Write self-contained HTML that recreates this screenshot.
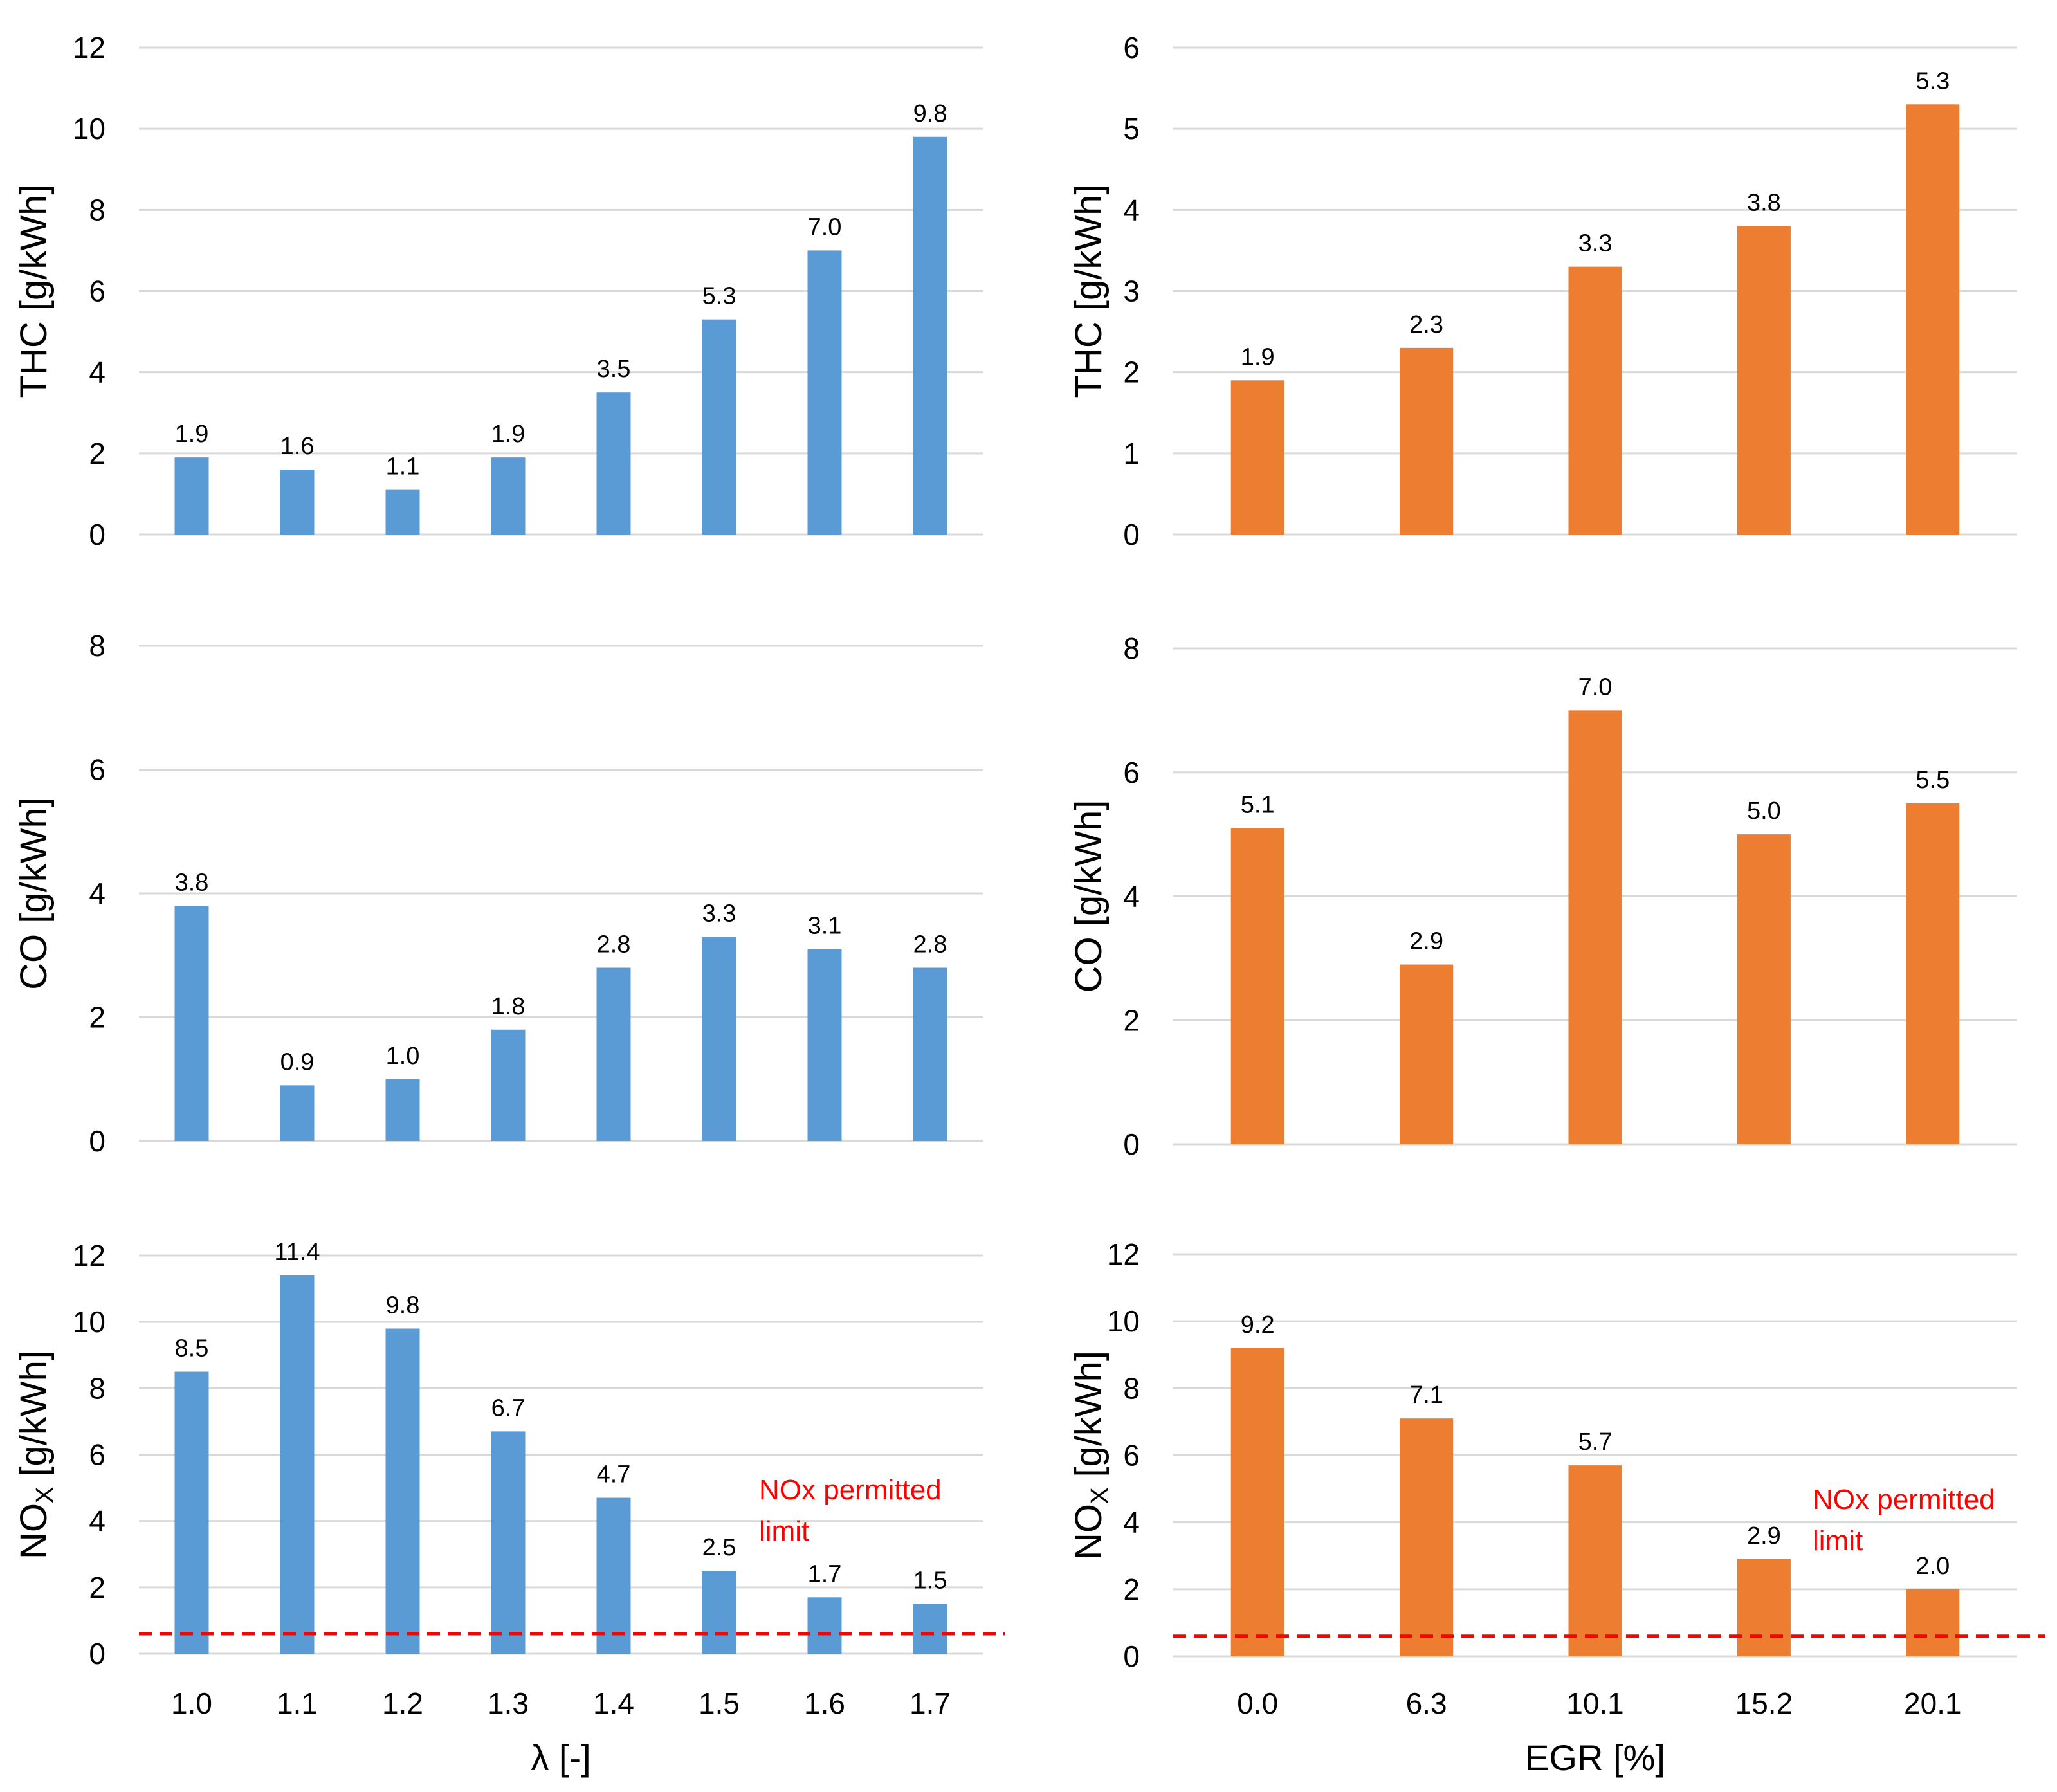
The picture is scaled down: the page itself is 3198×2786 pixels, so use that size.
<!DOCTYPE html>
<html><head><meta charset="utf-8"><style>
html,body{margin:0;padding:0;background:#fff;}
svg{display:block;font-family:"Liberation Sans",sans-serif;}
</style></head><body>
<svg id="fig" width="3198" height="2786" viewBox="0 0 3198 2786" xmlns="http://www.w3.org/2000/svg"></svg>
<script>
const lambdaCats = ["1.0","1.1","1.2","1.3","1.4","1.5","1.6","1.7"];
const egrCats = ["0.0","6.3","10.1","15.2","20.1"];
const thcLambda = [1.9,1.6,1.1,1.9,3.5,5.3,7.0,9.8];
const coLambda = [3.8,0.9,1.0,1.8,2.8,3.3,3.1,2.8];
const noxLambda = [8.5,11.4,9.8,6.7,4.7,2.5,1.7,1.5];
const thcEgr = [1.9,2.3,3.3,3.8,5.3];
const coEgr = [5.1,2.9,7.0,5.0,5.5];
const noxEgr = [9.2,7.1,5.7,2.9,2.0];
const noxLimit = 0.6;
const thcLambdaTicks = [0,2,4,6,8,10,12];
const thcEgrTicks = [0,1,2,3,4,5,6];
const coTicks = [0,2,4,6,8];
const noxTicks = [0,2,4,6,8,10,12];

const svg = document.getElementById('fig');
const NS = 'http://www.w3.org/2000/svg';
function mk(tag, attrs, parent){const e=document.createElementNS(NS,tag);for(const k in attrs)e.setAttribute(k,attrs[k]);(parent||svg).appendChild(e);return e;}

function panel(o){
  const g = mk('g',{});
  
  
  const ymax = o.ticks[o.ticks.length-1];
  const y = v => o.y0 + (o.yTop - o.y0) * v / ymax;
  const bw = (o.x1 - o.x0) / o.cats.length;
  const xc = i => o.x0 + bw * (i + 0.5);
  o.ticks.forEach(t=>{
    const l = mk('line',{x1:o.x0,x2:o.x1,y1:y(t),y2:y(t),stroke:'#d9d9d9','stroke-width':3},g);
    
    
    const tx = mk('text',{x:o.tickX,y:y(t)+16,'text-anchor':'end','font-size':46,fill:'#000'},g);
    tx.textContent = t;
    
    
  });
  o.vals.forEach((v,i)=>{
    const r = mk('rect',{x:xc(i)-o.barW/2,y:y(v),width:o.barW,height:o.y0-y(v),fill:o.color},g);
    
    
    const tx = mk('text',{x:xc(i),y:y(v)-24,'text-anchor':'middle','font-size':38,fill:'#000'},g);
    tx.textContent = v.toFixed(1);
    
    
    if(o.showX){
      const xl = mk('text',{x:xc(i),y:o.xLabY,'text-anchor':'middle','font-size':46,fill:'#000'},g);
      xl.textContent = o.cats[i];
      
      
    }
  });
  const at = mk('text',{transform:`translate(${o.titleX},${(o.y0+o.yTop)/2}) rotate(-90)`,'text-anchor':'middle','font-size':58,fill:'#000'},g);
  
  
  if(o.sub){
    at.textContent = o.title;
    const ts = mk('tspan',{'font-size':38,dy:10},at); ts.textContent='X';
    const ts2 = mk('tspan',{dy:-10},at); ts2.textContent=' [g/kWh]';
  } else at.textContent = o.title + ' [g/kWh]';
  if(o.limit){
    const dl = mk('line',{x1:o.x0,x2:o.limitX2,y1:y(noxLimit),y2:y(noxLimit),stroke:'#ff0000','stroke-width':5,'stroke-dasharray':'20 12'},g);
    
    
    const lt = mk('text',{x:o.limX,y:o.limY,'font-size':44,fill:'#ff0000'},g);
    
    
    const a = mk('tspan',{x:o.limX},lt); a.textContent='NOx permitted';
    const b = mk('tspan',{x:o.limX,dy:64},lt); b.textContent='limit';
  }
  if(o.xTitle){
    const xt = mk('text',{x:(o.x0+o.x1)/2,y:2752,'text-anchor':'middle','font-size':56,fill:'#000'},g);
    xt.textContent = o.xTitle;
    
    
  }
}
const L = {x0:216,x1:1528,tickX:164,titleX:72,color:'#5b9bd5',barW:53,cats:lambdaCats};
const R = {x0:1824,x1:3136,tickX:1772,titleX:1712,color:'#ed7d31',barW:83,cats:egrCats};
panel(Object.assign({},L,{name:'thc-lambda-chart',vals:thcLambda,ticks:thcLambdaTicks,y0:831,yTop:74,title:'THC'}));
panel(Object.assign({},L,{name:'co-lambda-chart',vals:coLambda,ticks:coTicks,y0:1774,yTop:1004,title:'CO'}));
panel(Object.assign({},L,{name:'nox-lambda-chart',vals:noxLambda,ticks:noxTicks,y0:2571,yTop:1952,title:'NO',sub:true,showX:true,xLabY:2664,xTitle:'λ [-]',limit:true,limitX2:1562,limX:1180,limY:2331}));
panel(Object.assign({},R,{name:'thc-egr-chart',vals:thcEgr,ticks:thcEgrTicks,y0:831,yTop:74,title:'THC'}));
panel(Object.assign({},R,{name:'co-egr-chart',vals:coEgr,ticks:coTicks,y0:1779,yTop:1008,title:'CO'}));
panel(Object.assign({},R,{name:'nox-egr-chart',vals:noxEgr,ticks:noxTicks,y0:2575,yTop:1950,title:'NO',sub:true,showX:true,xLabY:2664,xTitle:'EGR [%]',limit:true,limitX2:3180,limX:2818,limY:2346}));
</script>
</body></html>
